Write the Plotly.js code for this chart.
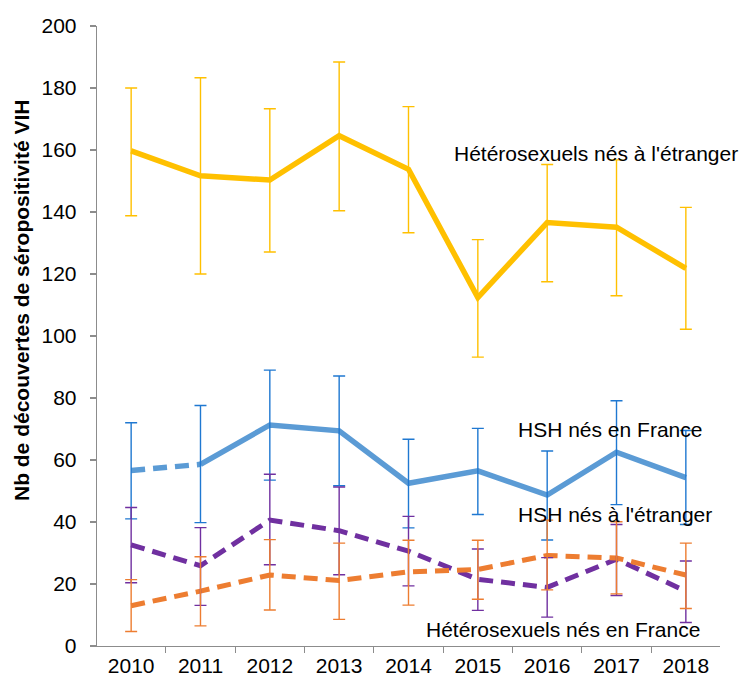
<!DOCTYPE html>
<html>
<head>
<meta charset="utf-8">
<script src="https://cdn.plot.ly/plotly-3.0.1.min.js"></script>
<style>html,body{margin:0;padding:0;background:#fff;}#chart{width:745px;height:679px;}</style>
</head>
<body>
<div id="chart"></div>
<script>
var years = ['2010','2011','2012','2013','2014','2015','2016','2017','2018'];

var hetEtr   = [159.7,151.7,150.3,164.6,153.8,112.4,136.6,135.1,121.8];
var hetEtrHi = [180.0,183.3,173.3,188.4,174.0,131.1,155.3,156.8,141.5];
var hetEtrLo = [138.8,120.0,127.1,140.4,133.3, 93.2,117.5,113.0,102.2];

var hshFr    = [56.6,58.6,71.3,69.4,52.5,56.5,48.7,62.5,54.3];
var hshFrHi  = [72.0,77.6,89.0,87.1,66.7,70.2,62.9,79.1,69.5];
var hshFrLo  = [41.0,39.8,53.5,51.7,38.1,42.4,34.2,45.6,39.2];

var hshEtr   = [32.6,25.9,40.6,37.2,30.6,21.5,18.9,28.0,17.7];
var hshEtrHi = [44.7,38.2,55.4,51.3,41.8,31.3,28.5,39.2,27.4];
var hshEtrLo = [20.4,13.1,26.2,23.0,19.4,11.5, 9.3,16.3, 7.6];

var hetFr    = [13.0,17.7,22.9,21.1,23.9,24.7,29.2,28.4,22.9];
var hetFrHi  = [21.4,28.8,34.3,33.2,34.1,34.1,40.6,40.1,33.2];
var hetFrLo  = [ 4.7, 6.5,11.6, 8.6,13.2,15.1,18.1,16.8,12.1];

var labels = ["Hétérosexuels nés à l'étranger","HSH nés en France","HSH nés à l'étranger","Hétérosexuels nés en France"];
var yTitle = "Nb de découvertes de séropositivité VIH";

function diff(a,b){return a.map(function(v,i){return +(v-b[i]).toFixed(2);});}

function errTrace(y, hi, lo, color){
  return {
    x: years, y: y, type:'scatter', mode:'markers',
    marker:{size:1, color:'rgba(0,0,0,0)'},
    hoverinfo:'skip', showlegend:false,
    error_y:{type:'data', symmetric:false, array:diff(hi,y), arrayminus:diff(y,lo),
             color:color, thickness:1.4, width:6}
  };
}

var dashPat = '14px,8px';
var traces = [
  {x:years, y:hetEtr, type:'scatter', mode:'lines', line:{color:'#FFC000', width:5.5}, showlegend:false},
  {x:years.slice(0,2), y:hshFr.slice(0,2), type:'scatter', mode:'lines', line:{color:'#5B9BD5', width:5.5, dash:dashPat}, showlegend:false},
  {x:years.slice(1), y:hshFr.slice(1), type:'scatter', mode:'lines', line:{color:'#5B9BD5', width:5.5}, showlegend:false},
  {x:years, y:hshEtr, type:'scatter', mode:'lines', line:{color:'#7030A0', width:5, dash:dashPat}, showlegend:false},
  {x:years, y:hetFr, type:'scatter', mode:'lines', line:{color:'#ED7D31', width:5, dash:dashPat}, showlegend:false},
  errTrace(hetEtr, hetEtrHi, hetEtrLo, '#FFC000'),
  errTrace(hshFr, hshFrHi, hshFrLo, '#1F78D1'),
  errTrace(hshEtr, hshEtrHi, hshEtrLo, '#7030A0'),
  errTrace(hetFr, hetFrHi, hetFrLo, '#ED7D31')
];

var fnt = {family:'"Liberation Sans", Arial, sans-serif', size:21, color:'#000'};

var layout = {
  width:745, height:679,
  margin:{l:97, r:25, t:26, b:33, pad:0},
  paper_bgcolor:'#fff', plot_bgcolor:'#fff',
  font: fnt,
  showlegend:false,
  xaxis:{
    type:'category', tickson:'boundaries', ticks:'outside', ticklen:6, tickcolor:'#8C8C8C', tickwidth:1.3,
    showline:true, linecolor:'#8C8C8C', linewidth:1.3, showgrid:false, zeroline:false,
    tickfont:fnt, ticklabelstandoff:0
  },
  yaxis:{
    range:[0,200], dtick:20, tick0:0, ticks:'outside', ticklen:6, tickcolor:'#8C8C8C', tickwidth:1.3,
    showline:true, linecolor:'#8C8C8C', linewidth:1.3, showgrid:false, zeroline:false,
    tickfont:fnt, ticklabelstandoff:9
  },
  annotations:[
    {text:labels[0], xref:'paper', yref:'y', x:0.570, y:159.0, xanchor:'left', yanchor:'middle', showarrow:false, font:fnt},
    {text:labels[1], xref:'paper', yref:'y', x:0.673, y:70.0, xanchor:'left', yanchor:'middle', showarrow:false, font:fnt},
    {text:labels[2], xref:'paper', yref:'y', x:0.673, y:42.3, xanchor:'left', yanchor:'middle', showarrow:false, font:fnt},
    {text:labels[3], xref:'paper', yref:'y', x:0.525, y:5.2, xanchor:'left', yanchor:'middle', showarrow:false, font:fnt},
    {text:yTitle, xref:'paper', yref:'paper', x:-0.122, y:0.558, xanchor:'center', yanchor:'middle', textangle:-90, showarrow:false,
     font:{family:'"Liberation Sans", Arial, sans-serif', size:21, color:'#000', weight:'bold'}}
  ]
};

Plotly.newPlot('chart', traces, layout, {staticPlot:true, displayModeBar:false});
</script>
</body>
</html>
